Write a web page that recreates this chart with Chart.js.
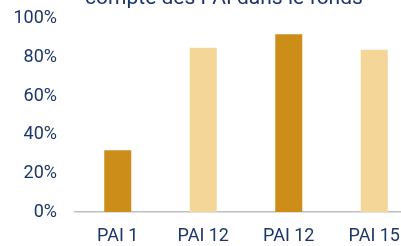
<!DOCTYPE html>
<html>
<head>
<meta charset="utf-8">
<script src="https://cdn.jsdelivr.net/npm/chart.js@4"></script>
<style>
  html, body { margin: 0; padding: 0; background: #ffffff; overflow: hidden; width: 401px; height: 246px; }
  #wrap { position: relative; width: 417px; height: 256px; margin-top: -10px; }
</style>
</head>
<body>
<div id="wrap"><canvas id="c" width="417" height="256"></canvas></div>
<script>
const categories = ['PAI 1', 'PAI 12', 'PAI 12', 'PAI 15'];
const values = [32, 85, 92, 84];
const barColors = ['#CD8E19', '#F4D699', '#CD8E19', '#F4D699'];
const yTicks = [0, 20, 40, 60, 80, 100];
const titleText = 'compte des PAI dans le fonds';

const navy = '#1B3668';
const font = "Roboto, 'Liberation Sans', sans-serif";

const topTitle = {
  id: 'topTitle',
  afterDraw(chart) {
    const ctx = chart.ctx;
    ctx.save();
    ctx.font = '21px ' + font;
    ctx.fillStyle = navy;
    ctx.textAlign = 'center';
    ctx.textBaseline = 'alphabetic';
    ctx.fillText(titleText, 224, 14);
    ctx.restore();
  }
};

new Chart(document.getElementById('c'), {
  type: 'bar',
  data: {
    labels: categories,
    datasets: [{
      data: values,
      backgroundColor: barColors,
      borderWidth: 0,
      barPercentage: 0.316,
      categoryPercentage: 1
    }]
  },
  options: {
    responsive: false,
    animation: false,
    devicePixelRatio: 1,
    layout: { padding: { top: 6, left: 0, right: 0, bottom: 0 } },
    plugins: { legend: { display: false }, tooltip: { enabled: false }, title: { display: false } },
    scales: {
      x: {
        grid: { display: false, drawTicks: false },
        border: { display: true, color: '#BFBFBF', width: 1.5 },
        ticks: { color: navy, font: { family: font, size: 18 }, padding: 14, maxRotation: 0, autoSkip: false },
        afterFit(scale) { scale.height = 34; }
      },
      y: {
        min: 0, max: 100,
        afterBuildTicks(scale) { scale.ticks = yTicks.map(v => ({ value: v })); },
        grid: { display: false, drawTicks: false },
        border: { display: false },
        ticks: { color: navy, font: { family: font, size: 18 }, padding: 18, callback: v => v + '%' },
        afterFit(scale) { scale.width = 75; }
      }
    }
  },
  plugins: [topTitle]
});
</script>
</body>
</html>
